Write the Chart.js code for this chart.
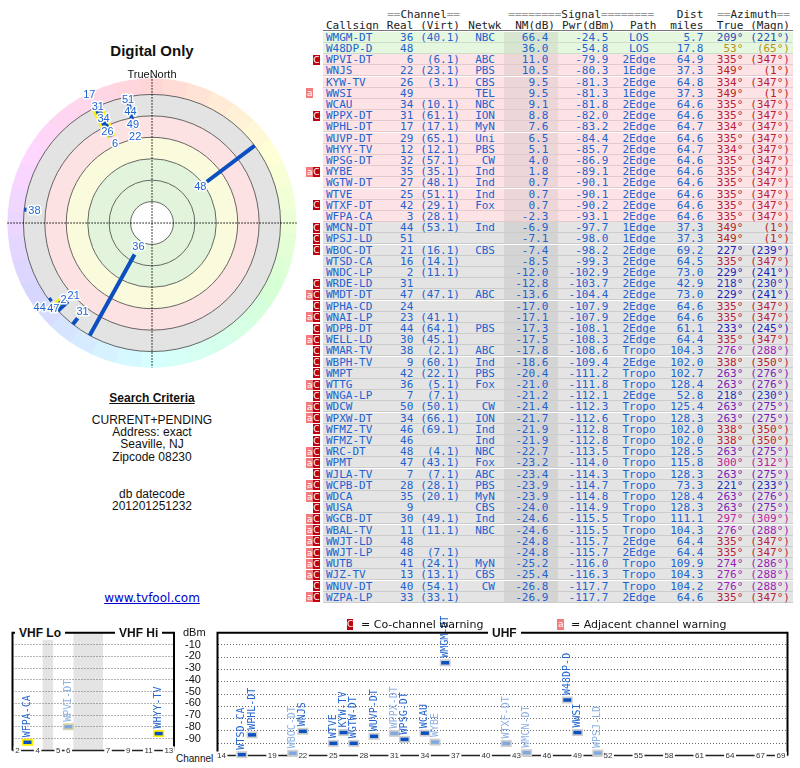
<!DOCTYPE html>
<html>
<head>
<meta charset="utf-8">
<title>Digital Only</title>
<script src="https://cdn.jsdelivr.net/npm/chart.js"></script>
<style>
  html, body { margin: 0; background: #fff; }
  #page { position: relative; width: 800px; height: 768px; overflow: hidden; font-family: "Liberation Sans", Arial, sans-serif; color: #111; }
  .abs { position: absolute; white-space: pre; }
  .mid { position: absolute; left: 2px; width: 300px; text-align: center; font-size: 12px; line-height: 12.3px; }
  .mono { font-family: "DejaVu Sans Mono", monospace; font-size: 11px; line-height: 11.2px; }
  .badge { position: absolute; width: 6.7px; height: 10px; color: #fff; font: 9px/10px "DejaVu Sans", sans-serif; text-align: center; }
  .ttl { position: absolute; background: #fff; font: bold 12px/14px "Liberation Sans", Arial, sans-serif; padding: 0 4px; }
  canvas { position: absolute; }
</style>
</head>
<body>
<div id="page">
  <div class="mid" style="top:41.5px;font-size:15px;line-height:18px;font-weight:bold">Digital Only</div>
  <canvas id="polar" width="300" height="300" style="left:1.7px;top:73.3px"></canvas>
  <div class="mid" style="top:67.5px;font-size:11px">TrueNorth</div>
  <div class="mid" style="top:391.8px;font-weight:bold;text-decoration:underline">Search Criteria</div>
  <div class="mid" style="top:413.8px">CURRENT+PENDING<br>Address: exact<br>Seaville, NJ<br>Zipcode 08230</div>
  <div class="mid" style="top:487.8px">db datecode<br>201201251232</div>
  <div class="mid" style="top:591.8px;font-family:'DejaVu Sans',sans-serif;color:#0000cc;text-decoration:underline">www.tvfool.com</div>

  <canvas id="vhf" width="215" height="156" style="left:0;top:612px"></canvas>
  <canvas id="uhf" width="595" height="156" style="left:205px;top:612px"></canvas>
</div>
<script>
// ---- station table ----
const callsigns = ["WMGM-DT","W48DP-D","WPVI-DT","WNJS","KYW-TV","WWSI","WCAU","WPPX-DT","WPHL-DT","WUVP-DT",
  "WHYY-TV","WPSG-DT","WYBE","WGTW-DT","WTVE","WTXF-DT","WFPA-CA","WMCN-DT","WPSJ-LD","WBOC-DT",
  "WTSD-CA","WNDC-LP","WRDE-LD","WMDT-DT","WPHA-CD","WNAI-LP","WDPB-DT","WELL-LD","WMAR-TV","WBPH-TV",
  "WMPT","WTTG","WNGA-LP","WDCW","WPXW-DT","WFMZ-TV","WFMZ-TV","WRC-DT","WPMT","WJLA-TV",
  "WCPB-DT","WDCA","WUSA","WGCB-DT","WBAL-TV","WWJT-LD","WWJT-LP","WUTB","WJZ-TV","WNUV-DT","WZPA-LP"];
const realCh = [36,48,6,22,26,49,34,31,17,29, 12,32,35,27,25,42,3,44,51,21, 16,2,31,47,24,23,44,30,38,9,
  42,36,7,50,34,46,46,48,47,7, 28,35,9,30,11,48,48,41,13,40,33];
const virtCh = ["40.1","","6.1","23.1","3.1","","10.1","61.1","17.1","65.1", "12.1","57.1","35.1","48.1","51.1","29.1","28.1","53.1","","16.1",
  "14.1","11.1","","47.1","","41.1","64.1","45.1","2.1","60.1", "22.1","5.1","7.1","50.1","66.1","69.1","","4.1","43.1","7.1",
  "28.1","20.1","","49.1","11.1","","7.1","24.1","13.1","54.1","33.1"];
const networks = ["NBC","","ABC","PBS","CBS","TEL","NBC","ION","MyN","Uni", "PBS","CW","Ind","Ind","Ind","Fox","","Ind","","CBS",
  "","","","ABC","","","PBS","","ABC","Ind", "PBS","Fox","","CW","ION","Ind","Ind","NBC","Fox","ABC",
  "PBS","MyN","CBS","Ind","NBC","","","MyN","CBS","CW",""];
const nmDb = [66.4,36.0,11.0,10.5,9.5,9.5,9.1,8.8,7.6,6.5, 5.1,4.0,1.8,0.7,0.7,0.7,-2.3,-6.9,-7.1,-7.4,
  -8.5,-12.0,-12.8,-13.6,-17.0,-17.1,-17.3,-17.5,-17.8,-18.6, -20.4,-21.0,-21.2,-21.4,-21.7,-21.9,-21.9,-22.7,-23.2,-23.4,
  -23.9,-23.9,-24.0,-24.6,-24.6,-24.8,-24.8,-25.2,-25.4,-26.8,-26.9];
const pwrDbm = [-24.5,-54.8,-79.9,-80.3,-81.3,-81.3,-81.8,-82.0,-83.2,-84.4, -85.7,-86.9,-89.1,-90.1,-90.1,-90.2,-93.1,-97.7,-98.0,-98.2,
  -99.3,-102.9,-103.7,-104.4,-107.9,-107.9,-108.1,-108.3,-108.6,-109.4, -111.2,-111.8,-112.1,-112.3,-112.6,-112.8,-112.8,-113.5,-114.0,-114.3,
  -114.7,-114.8,-114.9,-115.5,-115.5,-115.7,-115.7,-116.0,-116.3,-117.7,-117.7];
const paths = ["LOS","LOS","2Edge","1Edge","2Edge","1Edge","2Edge","2Edge","2Edge","2Edge",
  "2Edge","2Edge","2Edge","2Edge","2Edge","2Edge","2Edge","1Edge","1Edge","2Edge",
  "2Edge","2Edge","2Edge","2Edge","2Edge","2Edge","2Edge","2Edge","Tropo","2Edge",
  "Tropo","Tropo","2Edge","Tropo","Tropo","Tropo","Tropo","Tropo","Tropo","Tropo",
  "Tropo","Tropo","Tropo","Tropo","Tropo","2Edge","2Edge","Tropo","Tropo","Tropo","2Edge"];
const distMiles = [5.7,17.8,64.9,37.3,64.8,37.3,64.6,64.6,64.7,64.6, 64.7,64.6,64.6,64.6,64.6,64.6,64.6,37.3,37.3,69.2,
  64.5,73.0,42.9,73.0,64.6,64.6,61.1,64.4,104.3,102.0, 102.7,128.4,52.8,125.4,128.3,102.0,102.0,128.5,115.8,128.3,
  73.3,128.4,128.3,111.1,104.3,64.4,64.4,109.9,104.3,104.2,64.6];
const azTrue = [209,53,335,349,334,349,335,335,334,335, 334,335,335,335,335,335,335,349,349,227,
  335,229,218,229,335,335,233,335,276,338, 263,263,218,263,263,338,338,263,300,263,
  221,263,263,297,276,335,335,274,276,276,335];
const azMagn = [221,65,347,1,347,1,347,347,347,347, 347,347,347,347,347,347,347,1,1,239,
  347,241,230,241,347,347,245,347,288,350, 276,276,230,275,275,350,350,275,312,275,
  233,276,275,309,288,347,347,286,288,288,347];
const warnings = ["","","C","","","a","","C","","", "","","aC","","","C","","C","C","C",
  "","","C","aC","C","aC","C","aC","C","C", "C","aC","C","aC","aC","C","C","aC","aC","C",
  "aC","aC","C","aC","aC","aC","aC","aC","aC","C","aC"];

// ---- axis tick labels ----
const vhfTicks = [2, 4, 5, 6, 7, 9, 11, 13];
const uhfTicks = [14, 16, 19, 22, 25, 28, 31, 34, 37, 40, 43, 46, 49, 52, 55, 58, 61, 64, 67, 69];

const page = document.getElementById('page');
const BLUE = '#2162cf';

function put(html, css, cls) {
  const d = document.createElement('div');
  d.className = cls || 'abs';
  d.style.cssText = css;
  d.innerHTML = html;
  page.appendChild(d);
  return d;
}

function azColor(m) {
  const h = (m >= 30 && m < 120) ? m - 20 : m;
  return `hsl(${h}, 72%, 42%)`;
}

// ---- table ----
const eq = s => `<span style="color:#9a9a9a">${s}</span>`;
put(eq('==') + 'Channel' + eq('=='), 'right:340px;top:9.4px;color:#222', 'abs mono');
put(eq('========') + 'Signal' + eq('========'), 'left:508.3px;top:9.4px;color:#222', 'abs mono');
put('Dist', 'right:96.7px;top:9.4px;color:#222', 'abs mono');
put(eq('==') + 'Azimuth' + eq('=='), 'right:10px;top:9.4px;color:#222', 'abs mono');

const head2 = [["Callsign", "left", 326], ["Real", "right", 413.3], ["(Virt)", "right", 460], ["Netwk", "left", 468.3],
  ["NM(dB)", "right", 555], ["Pwr(dBm)", "right", 615], ["Path", "left", 630], ["miles", "right", 703.3],
  ["True", "right", 743.3], ["(Magn)", "right", 790]];
head2.forEach(([t, side, x]) => {
  put(t, (side === 'left' ? `left:${x}px` : `right:${800 - x}px`) + ';top:20px;color:#222', 'abs mono');
});
put('', 'left:323.3px;top:30.3px;width:469.4px;height:1px;background:#777');

const ROW_TOP = 31.7, ROW_H = 11.2;
callsigns.forEach((cs, i) => {
  const top = ROW_TOP + i * ROW_H;
  const nm = nmDb[i];
  const bg = nm >= 15 ? '#e5f7df' : nm >= -5 ? '#fde3e5' : '#e4e4e4';
  const band = nm >= 15 ? '#d7e5d1' : nm >= -5 ? '#ecd6d8' : '#d4d4d4';
  put('', `left:323.3px;top:${top}px;width:469.4px;height:${ROW_H - 1}px;background:${bg};border-bottom:1px solid rgba(0,0,0,0.1)`);
  put('', `left:504px;top:${top}px;width:53.7px;height:${ROW_H - 1}px;background:${band}`);

  if (warnings[i].includes('a')) {
    put('a', `left:306.3px;top:${top + 0.6}px;background:#f27b7b`, 'badge');
  }
  if (warnings[i].includes('C')) {
    put('C', `left:313px;top:${top + 0.6}px;background:#c0000e`, 'badge');
  }

  const cells = [
    [cs, 'left', 326, BLUE],
    [String(realCh[i]), 'right', 413.3, BLUE],
    [virtCh[i] ? `(${virtCh[i]})` : '', 'right', 460, BLUE],
    [networks[i], 'right', 495, BLUE],
    [nm.toFixed(1), 'right', 548.3, BLUE],
    [pwrDbm[i].toFixed(1), 'right', 608.3, BLUE],
    [distMiles[i].toFixed(1), 'right', 703.3, BLUE],
    [`${azTrue[i]}°`, 'right', 743.3, azColor(azMagn[i])],
    [`(${azMagn[i]}°)`, 'right', 790, azColor(azMagn[i])]
  ];
  cells.forEach(([t, side, x, col]) => {
    if (!t) return;
    put(t, (side === 'left' ? `left:${x}px` : `right:${800 - x}px`) + `;top:${top}px;color:${col}`, 'abs mono');
  });
  put(paths[i], `left:609px;width:60px;text-align:center;top:${top}px;color:${BLUE}`, 'abs mono');
});

// ---- polar plot ----
const DEG = Math.PI / 180;
const rho = nm => 100 - nm;          // 0 dB NM sits on ring 100, -20 dB on ring 120
const polarIdx = callsigns.map((_, i) => i).filter(i => nmDb[i] > -18);

const markLines = [], vhfHalo = [];
polarIdx.forEach(i => {
  const a = azTrue[i] * DEG, r0 = rho(-20), r1 = rho(nmDb[i]);
  const seg = [{ x: r0 * Math.sin(a), y: r0 * Math.cos(a) }, { x: r1 * Math.sin(a), y: r1 * Math.cos(a) }, { x: NaN, y: NaN }];
  markLines.push(...seg);
  if (realCh[i] <= 13) vhfHalo.push(...seg);
});

const polarBackground = {
  id: 'polarBackground',
  beforeDatasetsDraw(chart) {
    const { ctx, scales: { x, y } } = chart;
    const cx = x.getPixelForValue(0), cy = y.getPixelForValue(0);
    const k = x.getPixelForValue(1) - cx;
    ctx.save();
    for (let a = 0; a < 360; a += 10) {
      ctx.beginPath();
      ctx.arc(cx, cy, 135 * k, (a - 95.5) * DEG, (a - 84.5) * DEG);
      ctx.arc(cx, cy, 119 * k, (a - 84.5) * DEG, (a - 95.5) * DEG, true);
      ctx.closePath();
      ctx.fillStyle = `hsl(${a}, 100%, 92%)`;
      ctx.fill();
    }
    [[120, '#e3e3e3'], [100, '#fce2e2'], [80, '#fafadd'], [60, '#e2f5dc'], [20, '#ffffff']].forEach(([r, c]) => {
      ctx.beginPath();
      ctx.arc(cx, cy, r * k, 0, 2 * Math.PI);
      ctx.fillStyle = c;
      ctx.fill();
    });
    ctx.strokeStyle = '#444';
    ctx.lineWidth = 0.8;
    [20, 40, 60, 80, 100, 120].forEach(r => {
      ctx.beginPath();
      ctx.arc(cx, cy, r * k, 0, 2 * Math.PI);
      ctx.stroke();
    });
    ctx.setLineDash([1.5, 1.5]);
    ctx.strokeStyle = '#000';
    ctx.lineWidth = 1;
    ctx.beginPath();
    ctx.moveTo(cx - 135 * k, cy); ctx.lineTo(cx + 135 * k, cy);
    ctx.moveTo(cx, cy - 137 * k); ctx.lineTo(cx, cy + 135 * k);
    ctx.stroke();
    ctx.restore();
  }
};

const polarLabels = {
  id: 'polarLabels',
  afterDatasetsDraw(chart) {
    const { ctx, scales: { x, y } } = chart;
    const cx = x.getPixelForValue(0), cy = y.getPixelForValue(0);
    const k = x.getPixelForValue(1) - cx;
    ctx.save();
    ctx.font = '11px "Liberation Sans", Arial, sans-serif';
    ctx.textAlign = 'center';
    ctx.textBaseline = 'middle';
    ctx.lineJoin = 'round';
    const placed = [];
    polarIdx.forEach(i => {
      const a = azTrue[i] * DEG;
      const txt = String(realCh[i]);
      const w = ctx.measureText(txt).width + 1;
      let r = rho(nmDb[i]) - 7.5, px, py;
      for (;;) {
        px = cx + r * k * Math.sin(a);
        py = cy - r * k * Math.cos(a);
        const hit = placed.some(b => Math.abs(b.x - px) < (b.w + w) / 2 && Math.abs(b.y - py) < 12);
        if (!hit) break;
        r += 0.5;
      }
      if (r > 134) return;
      placed.push({ x: px, y: py, w });
      ctx.strokeStyle = '#fff';
      ctx.lineWidth = 3;
      ctx.strokeText(txt, px, py);
      ctx.fillStyle = '#1e64d2';
      ctx.fillText(txt, px, py);
    });
    ctx.restore();
  }
};

// dataset 0 is painted last (on top), so the blue marks come first
new Chart(document.getElementById('polar'), {
  type: 'scatter',
  data: {
    datasets: [
      { data: markLines, showLine: true, borderColor: '#0b4fc0', borderWidth: 4, pointRadius: 0, spanGaps: false, clip: false },
      { data: vhfHalo, showLine: true, borderColor: '#fff200', borderWidth: 9, pointRadius: 0, spanGaps: false, clip: false }
    ]
  },
  options: {
    responsive: false, animation: false, events: [],
    layout: { padding: 0 },
    plugins: { legend: { display: false }, tooltip: { enabled: false } },
    scales: {
      x: { type: 'linear', min: -140, max: 140, display: false },
      y: { type: 'linear', min: -140, max: 140, display: false }
    }
  },
  plugins: [polarBackground, polarLabels]
});

// ---- signal bar panels ----
const barIdx = callsigns.map((_, i) => i).filter(i => nmDb[i] > -10);
const vhfIdx = barIdx.filter(i => realCh[i] <= 13);
const uhfIdx = barIdx.filter(i => realCh[i] >= 14);

const LO_GAP = 1.03, HI_GAP = 3.95;   // spacing of the band gaps (72-76 MHz and 88-174 MHz)
const vhfPos = ch => ch <= 4 ? ch : ch <= 6 ? ch + LO_GAP : ch + HI_GAP;
const uhfPos = ch => ch;

function panelPlugin(idx, posFn, ticks, vhf) {
  const light = idx.map(i => warnings[i].includes('C'));
  return {
    id: 'panel',
    beforeDraw(chart) {
      if (!vhf) return;
      const { ctx, chartArea: a, scales: { x } } = chart;
      ctx.save();
      ctx.fillStyle = '#e4e4e4';
      [[4, 5], [6, 7]].forEach(([c0, c1]) => {
        const x0 = x.getPixelForValue(posFn(c0) + 0.5), x1 = x.getPixelForValue(posFn(c1) - 0.5);
        ctx.fillRect(x0, a.top, x1 - x0, a.bottom - a.top);
      });
      ctx.restore();
    },
    beforeDatasetsDraw(chart) {
      const { ctx, chartArea: a, scales: { x } } = chart;
      ctx.save();
      ctx.strokeStyle = '#000';
      ctx.lineWidth = 2;
      ctx.beginPath();
      ctx.moveTo(a.left, a.bottom); ctx.lineTo(a.left, a.top);
      ctx.lineTo(a.right, a.top); ctx.lineTo(a.right, a.bottom);
      ctx.stroke();
      ctx.strokeStyle = '#222';
      ctx.lineWidth = 1.5;
      ctx.beginPath(); ctx.moveTo(a.left, a.bottom); ctx.lineTo(a.right, a.bottom); ctx.stroke();
      ctx.font = '8px "Liberation Sans", Arial, sans-serif';
      ctx.textAlign = 'center';
      ctx.textBaseline = 'middle';
      ticks.forEach(ch => {
        const px = x.getPixelForValue(posFn(ch));
        const w = ctx.measureText(String(ch)).width + 3;
        ctx.fillStyle = '#fff';
        ctx.fillRect(px - w / 2, a.bottom - 4, w, 8);
        ctx.fillStyle = '#333';
        ctx.fillText(String(ch), px, a.bottom + 0.5);
      });
      ctx.restore();
    },
    afterDatasetsDraw(chart) {
      const { ctx } = chart;
      const meta = chart.getDatasetMeta(0);
      ctx.save();
      ctx.font = '10px "DejaVu Sans Mono", monospace';
      ctx.textAlign = 'left';
      ctx.textBaseline = 'middle';
      meta.data.forEach((pt, j) => {
        ctx.save();
        ctx.translate(pt.x, pt.y - 5);
        ctx.rotate(-Math.PI / 2);
        ctx.fillStyle = light[j] ? '#8db1e4' : '#2466d0';
        ctx.fillText(callsigns[idx[j]], 0, 0);
        ctx.restore();
      });
      ctx.restore();
    }
  };
}

function barPanel(id, idx, posFn, xMin, xMax, ticks, vhf, padding) {
  const pts = idx.map(i => ({ x: posFn(realCh[i]), y: pwrDbm[i] }));
  const light = idx.map(i => warnings[i].includes('C'));
  const hideEdge = v => v === 0 || v === -100;
  return new Chart(document.getElementById(id), {
    type: 'scatter',
    data: {
      datasets: [
        { data: pts, pointStyle: 'line', pointRadius: 4, pointHoverRadius: 4, pointBorderWidth: 3.5, clip: false,
          pointBorderColor: light.map(l => l ? '#80a8de' : '#0b50c0') },
        { data: pts, pointStyle: 'line', pointRadius: 5.5, pointHoverRadius: 5.5, pointBorderWidth: 7, clip: false,
          pointBorderColor: light.map(l => vhf ? (l ? '#d9d7a4' : '#fff000') : '#cfcfcf') }
      ]
    },
    options: {
      responsive: false, animation: false, events: [],
      layout: { padding },
      plugins: { legend: { display: false }, tooltip: { enabled: false } },
      scales: {
        x: { type: 'linear', min: xMin, max: xMax, display: false },
        y: {
          type: 'linear', min: -100, max: 0, position: vhf ? 'right' : 'left',
          afterFit(scale) { scale.width = vhf ? 41 : 0; },
          ticks: {
            display: vhf, stepSize: 10, padding: 11, color: '#111', autoSkip: false,
            font: { family: '"Liberation Sans", Arial, sans-serif', size: 11 },
            callback: v => hideEdge(v) ? '' : v
          },
          grid: { drawTicks: false, color: c => hideEdge(c.tick.value) ? 'rgba(0,0,0,0)' : '#6a6a6a', lineWidth: 1 },
          border: { display: false, dash: [1, 2] }
        }
      }
    },
    plugins: [panelPlugin(idx, posFn, ticks, vhf)]
  });
}

barPanel('vhf', vhfIdx, vhfPos, 1.52, 17.46, vhfTicks, true, { left: 6.7, right: 0, top: 20.7, bottom: 9.3 });
barPanel('uhf', uhfIdx, uhfPos, 13.61, 69.65, uhfTicks, false, { left: 10, right: 7.3, top: 20.7, bottom: 9.3 });

// panel titles, axis names and warning legend
put('VHF Lo', 'left:15px;top:625.7px', 'ttl');
put('VHF Hi', 'left:115px;top:625.7px', 'ttl');
put('UHF', 'left:488px;top:625.7px', 'ttl');
put('dBm', 'left:183px;top:626px;font-size:11px;line-height:13px');
put('Channel', 'left:176px;top:752.5px;font-size:10px;line-height:12px;background:#fff;padding-right:1px');
put('C', 'left:346.7px;top:619px;height:11px;line-height:11px;background:#c0000e', 'badge');
put('= Co-channel warning', 'left:361px;top:617.8px;font:11px/13px "DejaVu Sans",sans-serif;color:#111');
put('a', 'left:557.3px;top:619px;height:11px;line-height:11px;background:#f27b7b', 'badge');
put('= Adjacent channel warning', 'left:571px;top:617.8px;font:11px/13px "DejaVu Sans",sans-serif;color:#111');
</script>
</body>
</html>
